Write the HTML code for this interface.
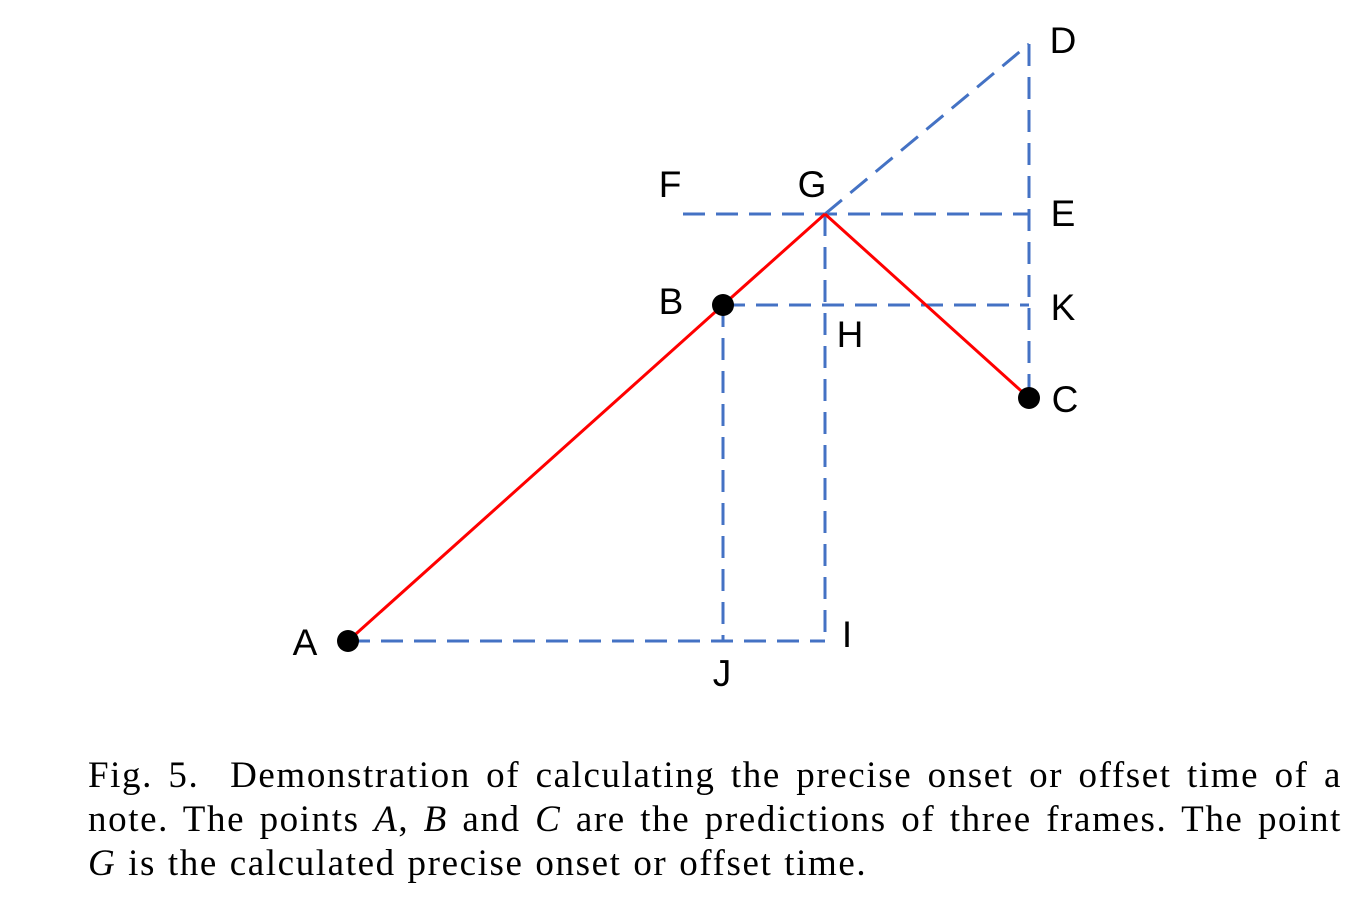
<!DOCTYPE html>
<html><head><meta charset="utf-8"><style>
body{margin:0;background:#fff;width:1369px;height:919px;overflow:hidden;position:relative}
svg{position:absolute;left:0;top:0}
.ln{position:absolute;left:88px;width:1254px;font-family:"Liberation Serif",serif;font-size:37px;line-height:44px;color:#000;white-space:nowrap;letter-spacing:1.6px}
.j{text-align:justify;text-align-last:justify}
.ln i{font-style:italic}
</style></head><body>
<svg width="1369" height="740" id="dg"></svg>
<div>
<div class="ln j" style="top:754px">Fig. 5.&nbsp; Demonstration of calculating the precise onset or offset time of a</div>
<div class="ln j" style="top:798px">note. The points <i>A</i>, <i>B</i> and <i>C</i> are the predictions of three frames. The point</div>
<div class="ln" style="top:842px;word-spacing:1px"><i>G</i> is the calculated precise onset or offset time.</div>
</div>
<script>
const pointNames=['A','B','C','G','D','E','K','F','H','I','J'];
const pointX=[348,723,1029,825,1029,1029,1029,683,825,825,723];
const pointY=[641,305,398,214,44,214,305,214,305,641,641];
const labelDX=[-43,-52,36,-13,34,34,34,-13,25,22,-1];
const labelDY=[14,9,14,-17,9,12,15,-17,42,6,45];
const dashedSegs=[['A','I'],['B','K'],['F','E'],['G','D'],['D','C'],['B','J'],['G','I']];
const redSegs=[['A','B'],['B','G'],['G','C']];
const dots=['A','B','C'];
const svg=document.getElementById('dg');const NS='http://www.w3.org/2000/svg';
const P=n=>{const i=pointNames.indexOf(n);return [pointX[i],pointY[i]];};
function line(s,col,dash,name){const a=P(s[0]),b=P(s[1]);const l=document.createElementNS(NS,'line');
l.setAttribute('x1',a[0]);l.setAttribute('y1',a[1]);l.setAttribute('x2',b[0]);l.setAttribute('y2',b[1]);
l.setAttribute('stroke',col);l.setAttribute('stroke-width','3');if(dash)l.setAttribute('stroke-dasharray',dash);


svg.appendChild(l);}
dashedSegs.forEach(s=>line(s,'#4472c4','22 11','dashed-line-'+s[0].toLowerCase()+s[1].toLowerCase()));
redSegs.forEach(s=>line(s,'#ff0000',null,'red-line-'+s[0].toLowerCase()+s[1].toLowerCase()));
dots.forEach(n=>{const p=P(n);const c=document.createElementNS(NS,'circle');c.setAttribute('cx',p[0]);c.setAttribute('cy',p[1]);c.setAttribute('r','11');c.setAttribute('fill','#000');


svg.appendChild(c);});
pointNames.forEach((n,i)=>{const t=document.createElementNS(NS,'text');t.setAttribute('x',pointX[i]+labelDX[i]);t.setAttribute('y',pointY[i]+labelDY[i]);
t.setAttribute('font-family','"Liberation Sans","Noto Sans CJK SC",sans-serif');t.setAttribute('font-size','37');t.setAttribute('text-anchor','middle');t.textContent=n;


svg.appendChild(t);});
</script>
</body></html>
